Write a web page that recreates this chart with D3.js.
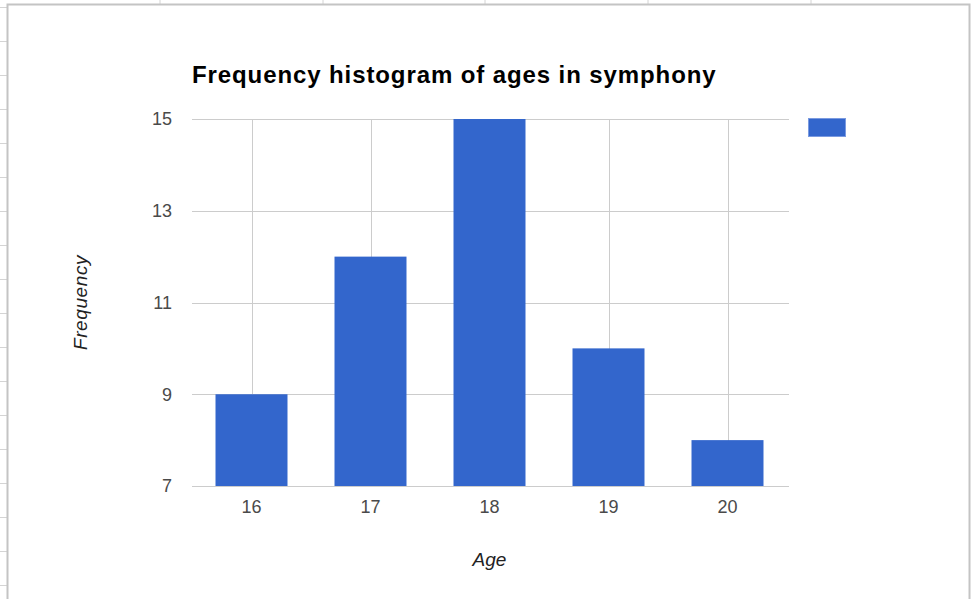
<!DOCTYPE html>
<html>
<head>
<meta charset="utf-8">
<script src="https://cdn.jsdelivr.net/npm/d3@7"></script>
<style>
    body { margin: 0; background: #fff; }
    svg { display: block; font-family: "Liberation Sans", Arial, sans-serif; }
</style>
</head>
<body>
<script>
// chart data
const ages = ["16", "17", "18", "19", "20"];
const frequency = [9, 12, 15, 10, 8];
const yTicks = [7, 9, 11, 13, 15];

const width = 972, height = 599;
const margin = {top: 119, right: 185, bottom: 113, left: 192};

const svg = d3.select("body").append("svg")
    .attr("width", width)
    .attr("height", height);

//Spreadsheet cells behind the chart
const cols = [160, 323, 485, 648, 811];
svg.selectAll(".col").data(cols).enter().append("line")
    .attr("x1", d => d).attr("x2", d => d)
    .attr("y1", 0).attr("y2", 5)
    .attr("stroke", "#d4d4d4");
const rows = d3.range(7, 599, 34);
svg.selectAll(".row").data(rows).enter().append("line")
    .attr("x1", 0).attr("x2", 8)
    .attr("y1", d => d + 0.5).attr("y2", d => d + 0.5)
    .attr("stroke", "#d4d4d4");

//Chart panel
svg.append("rect")
    .attr("x", 7.5).attr("y", 4.5)
    .attr("width", 962).attr("height", 600)
    .attr("fill", "#fff")
    .attr("stroke", "#c4c4c4")
    .attr("stroke-width", 2);

const x = d3.scaleBand()
    .domain(ages)
    .range([margin.left, width - margin.right])
    .paddingInner(0.395)
    .paddingOuter(0.1975);

const y = d3.scaleLinear()
    .domain([7, 15])
    .range([height - margin.bottom, margin.top]);

const plot = svg.append("g");

//Horizontal gridlines
plot.selectAll(".hgrid").data(yTicks).enter().append("line")
    .attr("x1", margin.left).attr("x2", width - margin.right + 2)
    .attr("y1", d => Math.round(y(d)) + 0.5)
    .attr("y2", d => Math.round(y(d)) + 0.5)
    .attr("stroke", "#cccccc");

//Vertical gridlines at category centers
plot.selectAll(".vgrid").data(ages).enter().append("line")
    .attr("x1", d => Math.round(x(d) + x.bandwidth() / 2) + 0.5)
    .attr("x2", d => Math.round(x(d) + x.bandwidth() / 2) + 0.5)
    .attr("y1", y(15)).attr("y2", y(7))
    .attr("stroke", "#cccccc");

//Bars
plot.selectAll(".bar").data(frequency).enter().append("rect")
    .attr("x", (d, i) => x(ages[i]))
    .attr("width", x.bandwidth())
    .attr("y", d => y(d))
    .attr("height", d => y(7) - y(d))
    .attr("fill", "#3366cc");

//Axes
const yAxis = svg.append("g")
    .attr("transform", `translate(${margin.left},0)`)
    .call(d3.axisLeft(y).tickValues(yTicks).tickSize(0).tickPadding(20));
yAxis.select(".domain").remove();
yAxis.selectAll("text")
    .attr("fill", "#4a4a4a")
    .style("font-size", "18px");

const xAxis = svg.append("g")
    .attr("transform", `translate(0,${height - margin.bottom})`)
    .call(d3.axisBottom(x).tickSize(0).tickPadding(14));
xAxis.select(".domain").remove();
xAxis.selectAll("text")
    .attr("fill", "#4a4a4a")
    .style("font-size", "18px");

//Title
svg.append("text")
    .attr("x", margin.left)
    .attr("y", 83)
    .attr("font-weight", "bold")
    .attr("font-size", "24px")
    .attr("letter-spacing", "0.9px")
    .attr("fill", "#000")
    .text("Frequency histogram of ages in symphony");

//Axis titles
svg.append("text")
    .attr("x", (margin.left + width - margin.right) / 2)
    .attr("y", 566)
    .attr("text-anchor", "middle")
    .attr("font-style", "italic")
    .attr("font-size", "19px")
    .attr("fill", "#222")
    .text("Age");

svg.append("text")
    .attr("transform", `translate(87,${(y(7) + y(15)) / 2}) rotate(-90)`)
    .attr("text-anchor", "middle")
    .attr("font-style", "italic")
    .attr("font-size", "19px")
    .attr("letter-spacing", "0.6px")
    .attr("fill", "#222")
    .text("Frequency");

//Legend swatch
svg.append("rect")
    .attr("x", 808.5).attr("y", 118.5)
    .attr("width", 37).attr("height", 18)
    .attr("fill", "#3366cc")
    .attr("stroke", "#7a9ae0");
</script>
</body>
</html>
